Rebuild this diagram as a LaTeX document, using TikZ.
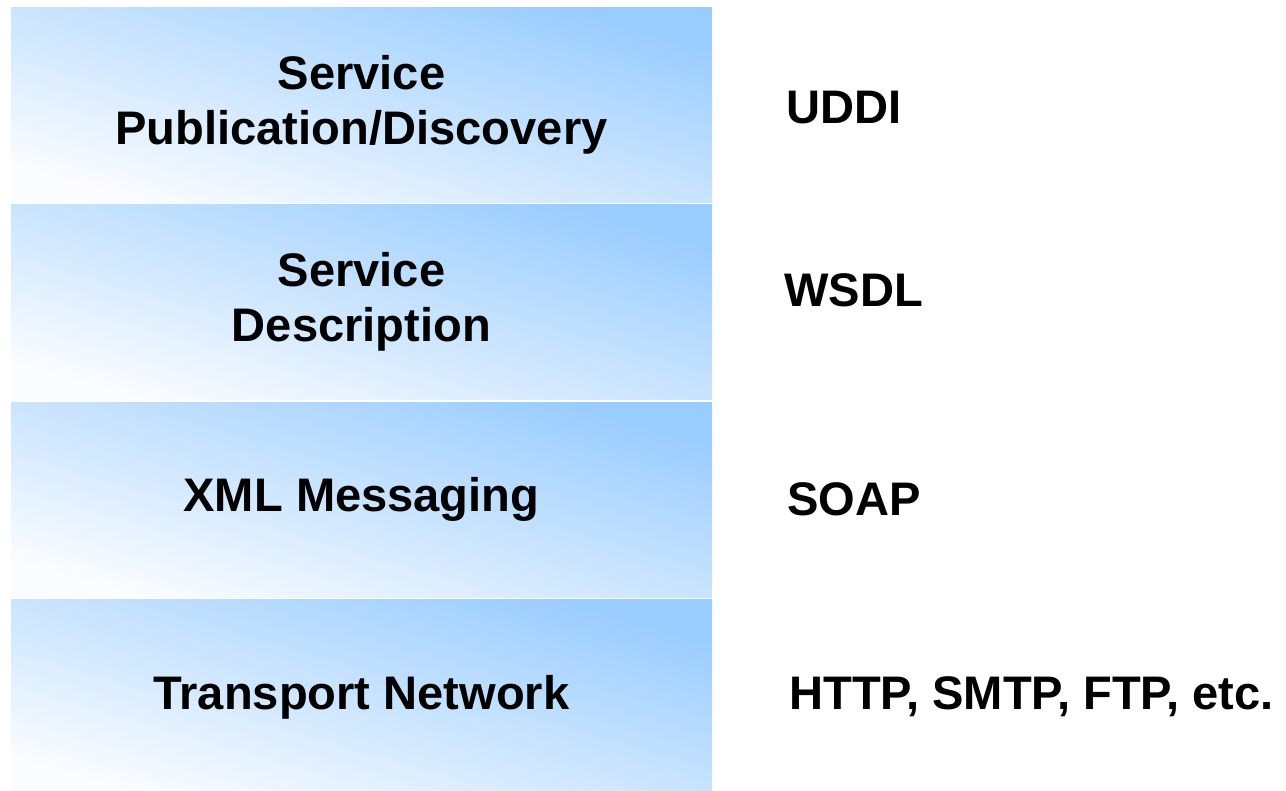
\documentclass[tikz,border=0pt]{standalone}
\usepackage{fontspec}
\setmainfont{Liberation Sans}
\usepackage{tikz}
\usetikzlibrary{positioning}
\definecolor{layerblue}{RGB}{153,204,255}
\definecolor{layerwhite}{RGB}{250,252,255}
\tikzstyle{layer} = [minimum width=7.01cm, minimum height=1.95cm, inner sep=0pt, align=center, bottom color=layerwhite, top color=layerblue, shading angle=-16, font=\fontsize{13.4}{15.7}\selectfont\bfseries]
\tikzstyle{proto} = [inner sep=0pt, font=\fontsize{13.4}{15.7}\selectfont\bfseries]

\begin{document}
\begin{tikzpicture}[node distance=1.975cm]
          \useasboundingbox (0,0) rectangle (12.86,-7.90);
          \node[layer] (pub) at (3.615,-1.045) {Service\\Publication/Discovery};
          \node[layer] (desc) [below of=pub] {Service\\Description};
          \node[layer] (msg) [below of=desc] {XML Messaging};
          \node[layer] (net) [below of=msg] {Transport Network};
          \node[proto, yshift=-0.03cm] (uddi) [right=0.73cm of pub] {UDDI};
          \node[proto, yshift=0.12cm] (wsdl) [right=0.71cm of desc] {WSDL};
          \node[proto] (soap) [right=0.74cm of msg] {SOAP};
          \node[proto] (http) [right=0.76cm of net] {HTTP, SMTP, FTP, etc.};
        \end{tikzpicture}
\end{document}
